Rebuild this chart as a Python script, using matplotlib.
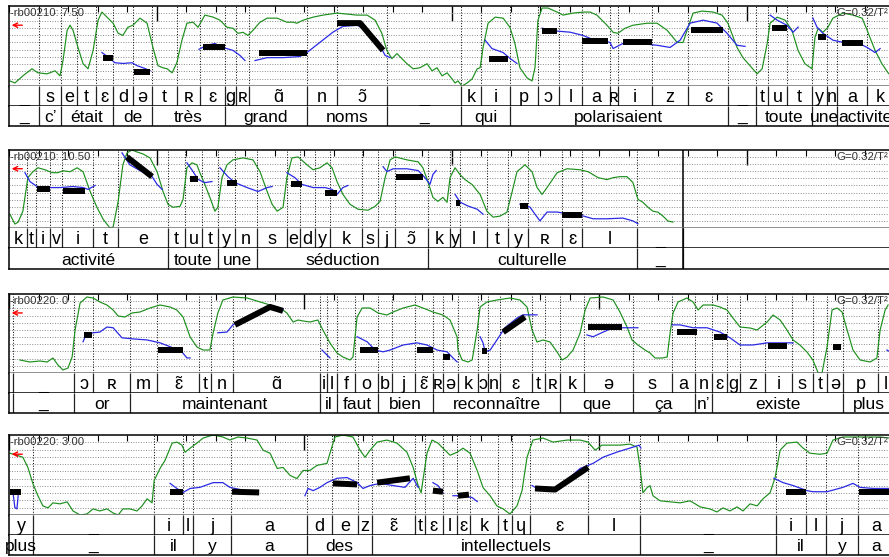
import numpy as np
import matplotlib
matplotlib.use('Agg')
import matplotlib.pyplot as plt

plt.rcParams['font.family'] = ['Liberation Sans', 'DejaVu Sans']

# ---------------- panel 1 : rb00210, 7.50 - 10.50 s ----------------
p1_label = 'rb00210: 7.50'
p1_start = 7.5
p1_end = 10.5
p1_phones = [(7.500, '_'), (7.602, 's'), (7.676, 'e'), (7.731, 't'), (7.795, 'ɛ'), (7.853, 'd'), (7.920, 'ə'),
             (7.985, 't'), (8.069, 'ʀ'), (8.147, 'ɛ'), (8.232, 'g'), (8.269, 'ʀ'), (8.314, 'ɑ̃'), (8.510, 'n'),
             (8.612, 'ɔ̃'), (8.781, '_'), (9.032, 'k'), (9.100, 'i'), (9.198, 'p'), (9.293, 'ɔ'), (9.364, 'l'),
             (9.442, 'a'), (9.537, 'ʀ'), (9.564, 'i'), (9.680, 'z'), (9.802, 'ɛ'), (9.937, '_'), (10.032, 't'),
             (10.073, 'u'), (10.137, 't'), (10.222, 'y'), (10.273, 'n'), (10.307, 'a'), (10.408, 'k')]
p1_words = [(7.500, '_'), (7.602, 'c’'), (7.676, 'était'), (7.853, 'de'), (7.985, 'très'), (8.232, 'grand'),
            (8.510, 'noms'), (8.781, '_'), (9.032, 'qui'), (9.198, 'polarisaient'), (9.937, '_'),
            (10.032, 'toute'), (10.222, 'une'), (10.307, 'activite')]
# intensity (dB)
p1_int = [(7.503, 26), (7.520, 24), (7.547, 31), (7.578, 38), (7.598, 34), (7.629, 33), (7.656, 36), (7.673, 31),
          (7.683, 46), (7.697, 76), (7.707, 81), (7.717, 76), (7.734, 59), (7.751, 43), (7.768, 38), (7.785, 56),
          (7.802, 86), (7.815, 94), (7.832, 89), (7.853, 83), (7.870, 73), (7.886, 71), (7.903, 79), (7.920, 81),
          (7.944, 88), (7.968, 83), (7.988, 59), (8.005, 41), (8.022, 39), (8.036, 38), (8.053, 34), (8.069, 44),
          (8.086, 66), (8.103, 83), (8.124, 84), (8.141, 79), (8.164, 91), (8.192, 89), (8.215, 86), (8.239, 79),
          (8.259, 78), (8.276, 73), (8.293, 74), (8.310, 71), (8.327, 76), (8.351, 84), (8.375, 88), (8.409, 88),
          (8.442, 84), (8.463, 84), (8.476, 83), (8.497, 86), (8.531, 89), (8.564, 91), (8.612, 93), (8.646, 92),
          (8.680, 91), (8.714, 91), (8.741, 86), (8.764, 73), (8.781, 56), (8.798, 48), (8.815, 53), (8.832, 48),
          (8.849, 43), (8.870, 38), (8.893, 39), (8.917, 43), (8.934, 36), (8.951, 39), (8.968, 31), (8.985, 34),
          (9.002, 28), (9.012, 24), (9.022, 26), (9.036, 21), (9.053, 24), (9.070, 28), (9.087, 38), (9.097, 39),
          (9.107, 59), (9.124, 83), (9.148, 89), (9.175, 88), (9.198, 79), (9.215, 63), (9.232, 39), (9.256, 29),
          (9.273, 26), (9.283, 39), (9.293, 86), (9.307, 98), (9.327, 98), (9.358, 94), (9.378, 91), (9.412, 93),
          (9.446, 94), (9.470, 94), (9.493, 91), (9.527, 81), (9.548, 74), (9.564, 73), (9.588, 78), (9.615, 81),
          (9.663, 83), (9.697, 83), (9.731, 76), (9.765, 64), (9.785, 64), (9.802, 79), (9.819, 93), (9.849, 95),
          (9.887, 94), (9.917, 91), (9.937, 83), (9.968, 59), (9.988, 49), (10.012, 41), (10.036, 33), (10.053, 38),
          (10.070, 63), (10.080, 83), (10.104, 89), (10.131, 86), (10.154, 76), (10.175, 56), (10.198, 43),
          (10.222, 38), (10.232, 69), (10.243, 78), (10.259, 74), (10.276, 79), (10.293, 88), (10.327, 93),
          (10.361, 91), (10.392, 88), (10.409, 76), (10.436, 56), (10.459, 43), (10.480, 34), (10.500, 28)]
# f0 (semitones), one list per voiced stretch
p1_f0 = [
    [(7.815, 87.2), (7.842, 85.6), (7.859, 84.4), (7.886, 84.2), (7.917, 84.4), (7.934, 83.6), (7.961, 82.8), (7.978, 82.2)],
    [(8.144, 88.1), (8.171, 89.2), (8.198, 89.7), (8.225, 88.6), (8.259, 87.8), (8.283, 86.4), (8.300, 85.0)],
    [(8.334, 85.0), (8.375, 85.8), (8.429, 85.8), (8.486, 86.1), (8.510, 87.2), (8.554, 90.0), (8.598, 92.8),
     (8.632, 94.4), (8.680, 94.7), (8.714, 93.3), (8.748, 90.6), (8.775, 86.4), (8.792, 85.8)],
    [(9.114, 90.6), (9.137, 88.3), (9.175, 87.2), (9.198, 85.6), (9.222, 84.2)],
    [(9.307, 93.9), (9.358, 93.1), (9.402, 92.8), (9.446, 91.9), (9.470, 91.1), (9.503, 90.6), (9.537, 90.0),
     (9.548, 88.3), (9.581, 89.7), (9.639, 89.7), (9.697, 89.2), (9.741, 88.6), (9.775, 90.6), (9.809, 95.3),
     (9.853, 96.1), (9.900, 95.3), (9.934, 92.5), (9.968, 89.2), (9.995, 88.9)],
    [(10.080, 97.5), (10.104, 96.1), (10.137, 94.7), (10.158, 92.8), (10.175, 94.2)],
    [(10.225, 96.7), (10.239, 94.2), (10.259, 92.5), (10.293, 90.6), (10.327, 90.0), (10.375, 90.0), (10.409, 88.6),
     (10.436, 87.2), (10.453, 88.3)],
]
# stylised pitch of the nuclei
p1_styl = [
    [(7.819, 85.6), (7.853, 85.6)], [(7.924, 81.9), (7.978, 81.9)], [(8.158, 88.6), (8.232, 88.6)],
    [(8.348, 87.2), (8.510, 87.2)], [(8.612, 95.3), (8.690, 95.3), (8.768, 87.8)], [(9.127, 85.3), (9.192, 85.3)],
    [(9.307, 93.1), (9.358, 93.1)], [(9.442, 90.3), (9.531, 90.3)], [(9.581, 90.0), (9.680, 90.0)],
    [(9.812, 93.3), (9.920, 93.3)], [(10.087, 93.9), (10.137, 93.9)], [(10.243, 91.4), (10.270, 91.4)],
    [(10.324, 89.7), (10.395, 89.7)],
]

# ---------------- panel 2 : rb00210, 10.50 - 13.50 s ----------------
p2_label = 'rb00210: 10.50'
p2_start = 10.5
p2_end = 12.785
p2_phones = [(10.500, 'k'), (10.561, 't'), (10.592, 'i'), (10.639, 'v'), (10.680, 'i'), (10.785, 't'), (10.869, 'e'),
             (11.039, 't'), (11.097, 'u'), (11.154, 't'), (11.208, 'y'), (11.266, 'n'), (11.341, 's'), (11.442, 'e'),
             (11.486, 'd'), (11.537, 'y'), (11.588, 'k'), (11.697, 's'), (11.751, 'j'), (11.808, 'ɔ̃'), (11.920, 'k'),
             (11.995, 'y'), (12.029, 'l'), (12.120, 't'), (12.192, 'y'), (12.259, 'ʀ'), (12.375, 'ɛ'), (12.442, 'l'),
             (12.629, '_')]
p2_words = [(10.500, 'activité'), (11.039, 'toute'), (11.208, 'une'), (11.341, 'séduction'), (11.920, 'culturelle'),
            (12.629, '_')]
p2_int = [(10.503, 35), (10.520, 25), (10.531, 27), (10.547, 38), (10.564, 72), (10.581, 78), (10.598, 82), (10.622, 80),
          (10.646, 77), (10.666, 77), (10.683, 79), (10.707, 78), (10.731, 82), (10.751, 78), (10.775, 58), (10.798, 42),
          (10.819, 30), (10.842, 21), (10.853, 22), (10.870, 48), (10.886, 85), (10.900, 97), (10.917, 100),
          (10.934, 98), (10.954, 96), (10.978, 92), (11.002, 78), (11.022, 58), (11.039, 45), (11.056, 42),
          (11.080, 43), (11.090, 50), (11.103, 82), (11.120, 87), (11.137, 85), (11.147, 77), (11.164, 65),
          (11.181, 52), (11.198, 38), (11.208, 42), (11.222, 72), (11.239, 85), (11.259, 90), (11.293, 92),
          (11.327, 90), (11.351, 78), (11.375, 58), (11.392, 45), (11.409, 38), (11.429, 42), (11.442, 72),
          (11.459, 92), (11.480, 93), (11.510, 85), (11.531, 80), (11.554, 82), (11.578, 87), (11.595, 82),
          (11.612, 68), (11.632, 55), (11.656, 45), (11.683, 40), (11.717, 39), (11.741, 43), (11.758, 48),
          (11.775, 72), (11.792, 90), (11.809, 93), (11.849, 90), (11.887, 88), (11.903, 82), (11.920, 68),
          (11.937, 52), (11.954, 48), (11.971, 52), (11.985, 47), (11.995, 72), (12.012, 82), (12.029, 75),
          (12.046, 70), (12.070, 65), (12.097, 55), (12.120, 38), (12.141, 32), (12.164, 33), (12.188, 37),
          (12.205, 57), (12.222, 78), (12.249, 85), (12.273, 78), (12.290, 62), (12.307, 55), (12.324, 62),
          (12.358, 77), (12.392, 81), (12.436, 80), (12.463, 78), (12.497, 72), (12.527, 70), (12.548, 72),
          (12.571, 73), (12.595, 73), (12.615, 67), (12.632, 50), (12.649, 47), (12.666, 42), (12.683, 38),
          (12.700, 37), (12.717, 33), (12.734, 28), (12.751, 27)]
p2_f0 = [
    [(10.554, 93.6), (10.571, 91.1), (10.595, 89.7), (10.629, 89.4), (10.673, 89.4), (10.717, 89.7), (10.751, 89.4),
     (10.768, 88.9), (10.792, 90.0)],
    [(10.883, 99.2), (10.910, 95.8), (10.944, 94.2), (10.985, 92.5), (11.002, 90.3), (11.019, 88.9)],
    [(11.103, 96.4), (11.120, 94.4), (11.141, 91.7), (11.164, 90.8), (11.188, 91.1)],
    [(11.215, 95.0), (11.242, 92.5), (11.266, 90.8), (11.307, 89.4), (11.344, 88.3), (11.375, 89.4), (11.392, 89.7)],
    [(11.442, 93.6), (11.469, 92.2), (11.493, 90.3), (11.531, 89.4), (11.571, 89.4), (11.595, 88.9), (11.612, 87.5),
     (11.632, 89.4), (11.649, 90.0)],
    [(11.768, 95.3), (11.781, 93.9), (11.802, 94.7), (11.849, 94.7), (11.887, 94.2), (11.910, 92.2), (11.927, 90.3),
     (11.937, 93.1), (11.948, 94.2)],
    [(12.012, 87.5), (12.029, 85.3), (12.056, 84.2), (12.087, 83.3), (12.107, 81.9)],
    [(12.232, 84.7), (12.266, 83.9), (12.283, 81.9), (12.300, 80.0), (12.324, 82.5), (12.358, 82.5), (12.402, 81.9),
     (12.446, 81.4), (12.480, 80.6), (12.527, 80.6), (12.581, 80.8), (12.615, 80.0), (12.632, 79.2)],
]
p2_styl = [
    [(10.595, 88.9), (10.639, 88.9)], [(10.683, 88.3), (10.758, 88.3)], [(10.900, 98.0), (10.985, 92.5)],
    [(11.114, 91.9), (11.141, 91.9)], [(11.239, 90.8), (11.273, 90.8)], [(11.456, 90.3), (11.493, 90.3)],
    [(11.571, 87.8), (11.612, 87.8)], [(11.812, 92.5), (11.903, 92.5)], [(12.015, 85.0), (12.029, 85.0)],
    [(12.232, 84.2), (12.259, 84.2)], [(12.375, 81.7), (12.442, 81.7)],
]

# ---------------- panel 3 : rb00220, 0 - 3.00 s ----------------
p3_label = 'rb00220: 0'
p3_start = 0.0
p3_end = 3.0
p3_phones = [(0.000, ''), (0.014, '_'), (0.220, 'ɔ'), (0.285, 'ʀ'), (0.410, 'm'), (0.502, 'ɛ̃'), (0.644, 't'),
             (0.685, 'n'), (0.759, 'ɑ̃'), (1.054, 'i'), (1.078, 'l'), (1.112, 'f'), (1.173, 'o'), (1.251, 'b'),
             (1.298, 'j'), (1.376, 'ɛ̃'), (1.437, 'ʀ'), (1.471, 'ə'), (1.522, 'k'), (1.590, 'ɔ'), (1.624, 'n'),
             (1.664, 'ɛ'), (1.773, 't'), (1.817, 'ʀ'), (1.868, 'k'), (1.949, 'ə'), (2.115, 's'), (2.247, 'a'),
             (2.325, 'n'), (2.383, 'ɛ'), (2.434, 'g'), (2.478, 'z'), (2.563, 'i'), (2.654, 's'), (2.725, 't'),
             (2.773, 'ə'), (2.827, 'p'), (2.946, 'l')]
p3_words = [(0.000, ''), (0.014, '_'), (0.220, 'or'), (0.410, 'maintenant'), (1.054, 'il'), (1.112, 'faut'),
            (1.251, 'bien'), (1.437, 'reconnaître'), (1.868, 'que'), (2.115, 'ça'), (2.325, 'n’'),
            (2.383, 'existe'), (2.827, 'plus')]
p3_int = [(0.037, 34), (0.071, 32), (0.105, 33), (0.129, 32), (0.149, 36), (0.166, 29), (0.183, 24), (0.200, 26),
          (0.214, 37), (0.224, 64), (0.241, 91), (0.264, 97), (0.285, 96), (0.308, 92), (0.332, 89), (0.353, 84),
          (0.370, 78), (0.393, 77), (0.417, 81), (0.444, 82), (0.478, 86), (0.512, 89), (0.546, 87), (0.569, 84),
          (0.590, 77), (0.614, 57), (0.637, 47), (0.658, 44), (0.681, 44), (0.692, 61), (0.708, 81), (0.725, 94),
          (0.759, 97), (0.807, 96), (0.851, 92), (0.885, 89), (0.919, 86), (0.942, 81), (0.963, 72), (0.980, 74),
          (0.997, 73), (1.020, 72), (1.047, 74), (1.064, 64), (1.088, 51), (1.112, 41), (1.132, 37), (1.156, 34),
          (1.166, 37), (1.180, 77), (1.197, 86), (1.224, 86), (1.251, 81), (1.281, 79), (1.302, 82), (1.336, 86),
          (1.376, 89), (1.403, 86), (1.437, 82), (1.471, 79), (1.495, 74), (1.519, 57), (1.522, 44), (1.536, 34),
          (1.556, 32), (1.570, 34), (1.587, 64), (1.597, 87), (1.620, 92), (1.654, 94), (1.698, 96), (1.732, 94),
          (1.756, 87), (1.773, 64), (1.790, 52), (1.810, 54), (1.834, 52), (1.858, 42), (1.875, 34), (1.892, 37),
          (1.912, 44), (1.936, 61), (1.953, 84), (1.970, 96), (2.014, 97), (2.048, 94), (2.071, 82), (2.095, 67),
          (2.112, 54), (2.132, 49), (2.156, 44), (2.173, 41), (2.190, 36), (2.214, 36), (2.231, 37), (2.241, 61),
          (2.251, 81), (2.268, 92), (2.298, 96), (2.319, 92), (2.336, 84), (2.353, 89), (2.387, 89), (2.410, 87),
          (2.434, 84), (2.454, 76), (2.478, 67), (2.512, 66), (2.536, 64), (2.570, 72), (2.590, 79), (2.614, 74),
          (2.637, 64), (2.658, 54), (2.681, 49), (2.705, 42), (2.725, 34), (2.743, 21), (2.756, 21), (2.773, 47),
          (2.790, 84), (2.807, 86), (2.824, 82), (2.841, 64), (2.861, 44), (2.885, 34), (2.919, 32), (2.942, 36),
          (2.953, 64), (2.970, 84), (2.980, 89)]
p3_f0 = [
    [(0.251, 86.7), (0.261, 88.6), (0.285, 89.2), (0.308, 89.4), (0.332, 90.8), (0.353, 90.6), (0.383, 87.8),
     (0.420, 87.5), (0.468, 87.2), (0.512, 86.4), (0.556, 85.0), (0.586, 83.9), (0.603, 82.2), (0.614, 82.2)],
    [(0.708, 89.2), (0.739, 89.4), (0.759, 91.4), (0.807, 93.6), (0.851, 95.0), (0.885, 96.7), (0.909, 96.4),
     (0.929, 95.6)],
    [(1.061, 84.4), (1.088, 82.2)],
    [(1.180, 88.1), (1.214, 86.7), (1.241, 84.4), (1.268, 83.9), (1.292, 84.4), (1.336, 85.8), (1.383, 86.4),
     (1.417, 85.8), (1.451, 84.4), (1.485, 83.9), (1.505, 82.2), (1.519, 81.1)],
    [(1.597, 88.1), (1.607, 86.4), (1.614, 83.9), (1.631, 84.4), (1.654, 87.2), (1.681, 90.6), (1.722, 93.3),
     (1.742, 94.2), (1.790, 94.2)],
    [(1.959, 88.6), (1.980, 88.1), (2.014, 89.4), (2.048, 90.6), (2.081, 90.6), (2.112, 90.6), (2.132, 90.6)],
    [(2.248, 91.4), (2.275, 91.4), (2.319, 90.6), (2.366, 90.6), (2.410, 89.4), (2.444, 87.8), (2.478, 85.8),
     (2.522, 85.8), (2.570, 86.4), (2.614, 86.4), (2.658, 86.4)],
    [(2.793, 85.3), (2.817, 85.3)],
    [(2.976, 84.4), (2.986, 83.9)],
]
p3_styl = [
    [(0.254, 88.6), (0.281, 88.6)], [(0.505, 84.4), (0.590, 84.4)], [(0.766, 91.4), (0.885, 96.4), (0.929, 95.3)],
    [(1.190, 84.4), (1.251, 84.4)], [(1.383, 84.4), (1.437, 84.4)], [(1.471, 82.5), (1.495, 82.5)],
    [(1.603, 84.2), (1.620, 84.2)], [(1.675, 89.4), (1.749, 93.6)], [(1.963, 90.8), (2.078, 90.8)],
    [(2.265, 89.4), (2.332, 89.4)], [(2.390, 88.1), (2.434, 88.1)], [(2.573, 85.6), (2.637, 85.6)],
    [(2.793, 85.3), (2.820, 85.3)],
]

# ---------------- panel 4 : rb00220, 3.00 - 6.00 s ----------------
p4_label = 'rb00220: 3.00'
p4_start = 3.0
p4_end = 6.0
p4_phones = [(3.000, 'y'), (3.081, '_'), (3.492, 'i'), (3.590, 'l'), (3.624, 'j'), (3.753, 'a'), (4.010, 'd'),
             (4.095, 'e'), (4.183, 'z'), (4.231, 'ɛ̃'), (4.376, 't'), (4.410, 'ɛ'), (4.471, 'l'), (4.519, 'ɛ'),
             (4.563, 'k'), (4.658, 't'), (4.705, 'ɥ'), (4.766, 'ɛ'), (4.963, 'l'), (5.139, '_'), (5.600, 'i'),
             (5.702, 'l'), (5.769, 'j'), (5.878, 'a')]
p4_words = [(3.000, 'plus'), (3.081, '_'), (3.492, 'il'), (3.624, 'y'), (3.753, 'a'), (4.010, 'des'),
            (4.231, 'intellectuels'), (5.139, '_'), (5.600, 'il'), (5.769, 'y'), (5.878, 'a')]
p4_int = [(3.003, 82), (3.027, 80), (3.047, 78), (3.064, 68), (3.081, 52), (3.098, 40), (3.115, 30), (3.132, 28),
          (3.149, 33), (3.173, 32), (3.197, 34), (3.217, 25), (3.241, 21), (3.264, 22), (3.285, 27), (3.308, 25),
          (3.332, 27), (3.353, 23), (3.370, 21), (3.386, 27), (3.410, 27), (3.434, 25), (3.451, 30), (3.468, 37),
          (3.485, 33), (3.492, 55), (3.512, 67), (3.529, 75), (3.553, 92), (3.569, 93), (3.586, 90), (3.597, 83),
          (3.614, 87), (3.637, 92), (3.658, 97), (3.692, 100), (3.725, 98), (3.749, 95), (3.776, 98), (3.807, 97),
          (3.841, 95), (3.861, 85), (3.885, 82), (3.909, 67), (3.929, 68), (3.953, 60), (3.976, 57), (3.997, 65),
          (4.020, 65), (4.044, 70), (4.078, 72), (4.088, 82), (4.105, 98), (4.132, 100), (4.166, 98), (4.190, 85),
          (4.207, 78), (4.224, 85), (4.248, 93), (4.281, 95), (4.315, 92), (4.349, 83), (4.370, 68), (4.387, 50),
          (4.397, 43), (4.403, 55), (4.417, 82), (4.434, 95), (4.454, 92), (4.478, 85), (4.495, 80), (4.519, 83),
          (4.539, 87), (4.563, 82), (4.587, 65), (4.607, 48), (4.631, 40), (4.654, 30), (4.675, 27), (4.698, 22),
          (4.722, 30), (4.739, 45), (4.756, 78), (4.776, 95), (4.810, 97), (4.844, 93), (4.892, 95), (4.936, 95),
          (4.963, 93), (4.987, 85), (5.010, 90), (5.037, 90), (5.071, 90), (5.105, 91), (5.129, 88), (5.139, 68),
          (5.149, 43), (5.163, 48), (5.173, 50), (5.183, 40), (5.207, 35), (5.241, 34), (5.275, 33), (5.309, 35),
          (5.343, 29), (5.376, 27), (5.400, 24), (5.420, 28), (5.444, 25), (5.468, 29), (5.488, 25), (5.512, 32),
          (5.536, 30), (5.556, 37), (5.580, 43), (5.597, 58), (5.614, 85), (5.637, 92), (5.671, 93), (5.692, 87),
          (5.715, 82), (5.749, 81), (5.773, 82), (5.793, 95), (5.827, 98), (5.875, 98), (5.909, 98), (5.953, 98),
          (5.986, 97)]
p4_f0 = [
    [(3.014, 83.9), (3.020, 80.0), (3.027, 79.7), (3.031, 83.3)],
    [(3.546, 86.7), (3.569, 85.3), (3.590, 84.2), (3.614, 85.3), (3.647, 85.6), (3.692, 86.9), (3.725, 86.9),
     (3.749, 85.6), (3.783, 85.0)],
    [(4.003, 83.3), (4.014, 85.3), (4.031, 84.7), (4.054, 85.6), (4.078, 86.9), (4.112, 88.1), (4.146, 88.3),
     (4.180, 86.9), (4.200, 85.3), (4.224, 86.1), (4.258, 86.7), (4.302, 86.1), (4.342, 85.6), (4.370, 88.1),
     (4.387, 85.6)],
    [(4.437, 86.9), (4.454, 86.1), (4.471, 84.2)],
    [(4.505, 83.3), (4.539, 83.3), (4.570, 82.8), (4.587, 81.7)],
    [(4.773, 86.1), (4.790, 85.3), (4.858, 85.3), (4.936, 90.8), (4.980, 92.2), (5.014, 93.9), (5.061, 95.3),
     (5.105, 96.4), (5.136, 97.2), (5.142, 96.4)],
    [(5.593, 88.1), (5.624, 86.9), (5.658, 86.1), (5.705, 84.7), (5.725, 84.4), (5.773, 84.4), (5.827, 85.6),
     (5.861, 86.7), (5.885, 85.6), (5.929, 85.3), (5.963, 85.3), (5.986, 85.3)],
]
p4_styl = [
    [(3.003, 84.2), (3.041, 84.2)], [(3.546, 84.2), (3.590, 84.2)], [(3.756, 84.4), (3.848, 84.2)],
    [(4.098, 86.7), (4.180, 86.4)], [(4.248, 86.9), (4.359, 88.1)], [(4.437, 84.7), (4.471, 84.4)],
    [(4.522, 83.3), (4.559, 83.6)], [(4.783, 85.3), (4.851, 85.0), (4.963, 91.1)],
    [(5.634, 84.4), (5.702, 84.4)], [(5.882, 84.4), (6.000, 84.4)],
]

panels = [
    dict(label=p1_label, start=p1_start, end=p1_end, phones=p1_phones, words=p1_words, inten=p1_int, f0=p1_f0, styl=p1_styl),
    dict(label=p2_label, start=p2_start, end=p2_end, phones=p2_phones, words=p2_words, inten=p2_int, f0=p2_f0, styl=p2_styl),
    dict(label=p3_label, start=p3_start, end=p3_end, phones=p3_phones, words=p3_words, inten=p3_int, f0=p3_f0, styl=p3_styl),
    dict(label=p4_label, start=p4_start, end=p4_end, phones=p4_phones, words=p4_words, inten=p4_int, f0=p4_f0, styl=p4_styl),
]

W, H = 889, 557
fig = plt.figure(figsize=(W / 100, H / 100), dpi=100)

# pixel rows of each strip: curve top, phone tier top, word tier top, bottom
rows = [(6, 86, 106, 126), (150, 228, 248, 269), (294, 373, 393, 413), (435, 515, 535, 555)]
x_left, x_width = 9, 885   # 3 s per strip, right edge falls just outside the picture
span = 3.0
green = '#1d8f1d'
blue = '#2a2ae4'
TILDE = '\u0303'


def box(top, bottom):
    return [x_left / W, 1 - bottom / H, x_width / W, (bottom - top) / H]


def draw_tier(axt, items, end, t0, fs):
    starts = [t for t, _ in items]
    bounds = starts[1:] + [end]
    axt.vlines(bounds, 0, 1, colors='#222222', lw=0.9)
    for (a, lab), b in zip(items, bounds):
        a, b = max(a, t0), min(b, t0 + span)
        xc = (a + b) / 2
        if lab.endswith(TILDE):
            # nasal vowel: put a spacing tilde over the base letter
            axt.text(xc, 0.2, lab[:-1], ha='center', va='baseline', fontsize=fs)
            axt.text(xc, 0.2, '˜', ha='center', va='baseline', fontsize=fs)
        else:
            axt.text(xc, 0.2, lab, ha='center', va='baseline', fontsize=fs)
    axt.set_xlim(t0, t0 + span)
    axt.set_ylim(0, 1)
    axt.set_xticks([])
    axt.set_yticks([])
    axt.spines['top'].set_visible(False)
    for s in ['left', 'bottom', 'right']:
        axt.spines[s].set_linewidth(1.1)


for p, (top, mid, sep, bottom) in zip(panels, rows):
    t0 = p['start']
    ax = fig.add_axes(box(top, mid))
    ax.set_xlim(t0, t0 + span)
    ax.set_ylim(21, 100)          # intensity, dB
    axp = ax.twinx()
    axp.set_ylim(78, 100)         # pitch, ST
    axp.set_axis_off()
    ax.set_yticks([])

    # dotted semitone grid and phone boundaries
    ax.hlines(np.arange(80, 99, 2), t0, t0 + span, transform=axp.transData,
              colors='#8c8c8c', linestyles=(0, (1, 1.6)), lw=0.7)
    inner = [t for t, _ in p['phones']][1:]
    ax.vlines(inner, 21, 100, colors='#111111', linestyles=(0, (1, 1.6)), lw=0.75)

    ti, vi = zip(*p['inten'])
    ax.plot(ti, vi, color=green, lw=0.85)
    for seg in p['f0']:
        tf, sf = zip(*seg)
        axp.plot(tf, sf, color=blue, lw=0.9)
    for seg in p['styl']:
        ts, ss = zip(*seg)
        axp.plot(ts, ss, color='black', lw=4.3, solid_capstyle='butt')

    # time ticks along the top edge
    ax.xaxis.tick_top()
    ax.set_xticks(np.arange(np.ceil(t0), t0 + span + 0.01, 1.0))
    ax.set_xticks(np.round(np.arange(t0, t0 + span + 0.01, 0.1), 2), minor=True)
    ax.tick_params(axis='x', which='major', direction='in', length=11, width=1.0,
                   labeltop=False, labelbottom=False, bottom=False)
    ax.tick_params(axis='x', which='minor', direction='in', length=4.5, width=0.8, bottom=False)
    for s in ['left', 'top']:
        ax.spines[s].set_linewidth(1.1)
    ax.spines['bottom'].set_color('#6e6e6e')
    ax.spines['bottom'].set_linewidth(1.8)

    ax.text(0.001, 1 - 7 / 79, '-' + p['label'], transform=ax.transAxes, fontsize=8.2,
            color='#333333', ha='left', va='center')
    ax.text((836 - x_left) / x_width, 1 - 7 / 79, 'G=0.32/T²', transform=ax.transAxes, fontsize=8.2,
            color='#333333', ha='left', va='center')
    ax.annotate('', xy=(0.003, 0.76), xytext=(0.015, 0.76), xycoords='axes fraction',
                arrowprops=dict(arrowstyle='->', color='red', lw=1.0, shrinkA=0, shrinkB=0,
                                mutation_scale=8))

    axph = fig.add_axes(box(mid, sep))
    draw_tier(axph, p['phones'], p['end'], t0, 13)
    axw = fig.add_axes(box(sep, bottom))
    draw_tier(axw, p['words'], p['end'], t0, 12.5)

    # end of the sound file
    if p['end'] < t0 + span:
        for a in (ax, axph, axw):
            a.axvline(p['end'], color='black', lw=1.1)

fig.savefig('out.png', dpi=100)
